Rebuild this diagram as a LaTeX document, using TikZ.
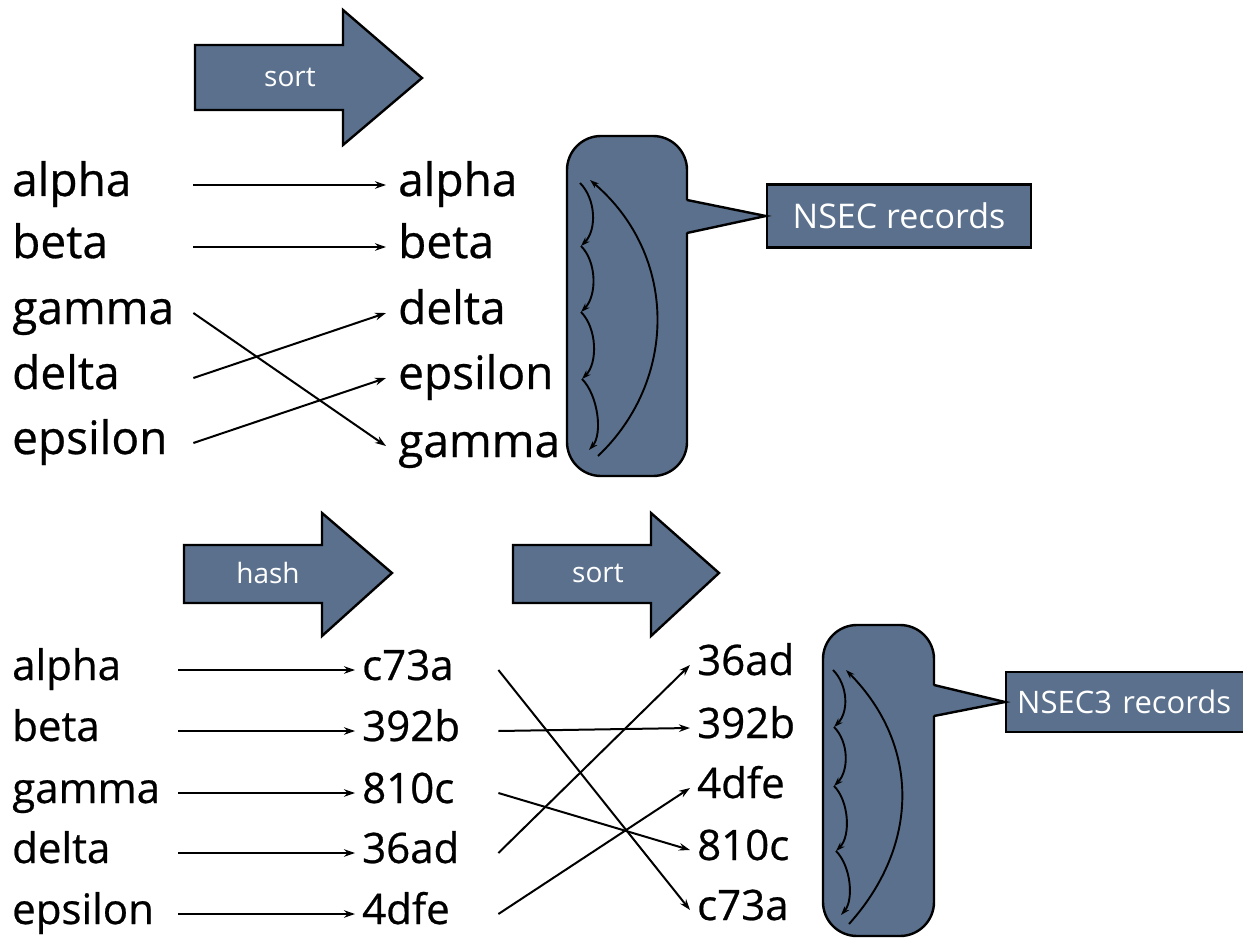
\documentclass[tikz,border=0pt]{standalone}
\usepackage{fontspec}
\setmainfont{Open Sans}
\newfontfamily\wordfont{Open Sans}[FakeBold=0.6]
\usetikzlibrary{arrows.meta}
\definecolor{slate}{RGB}{90,112,140}
\begin{document}
\begin{tikzpicture}[x=1pt,y=-1pt,
  wtop/.style={font=\wordfont\fontsize{46}{52}\selectfont, text height=33pt, text depth=11pt, inner ysep=0pt},
  wbot/.style={font=\wordfont\fontsize{42}{48}\selectfont, text height=30pt, text depth=10pt, inner ysep=0pt},
  lcol/.style={anchor=west, inner xsep=0pt, text width=#1, align=left},
  rcol/.style={anchor=west, inner xsep=#1},
  conn/.style={-{Stealth[length=11pt,width=7.5pt]}, line width=2pt},
  loop/.style={-{Stealth[length=9pt,width=6pt]}, line width=1.9pt},
  blk/.style={fill=slate, draw=black, line width=2.4pt, line join=miter},
  blktext/.style={text=white, font=\fontsize{28}{30}\selectfont},
  recbox/.style={fill=slate, draw=black, line width=2.4pt, rounded corners=34pt},
  callout/.style={fill=slate, draw=black, line width=2.4pt, text=white,
    font=\fontsize{34}{38}\selectfont, inner ysep=0pt, minimum height=63pt}
]
\path[use as bounding box, clip] (0,0) rectangle (1243,939);
\fill[white] (0,0) rectangle (1243,939);

% ---------- top block arrow ----------
\draw[blk] (195,45) -- (343,45) -- (343,10) -- (422,78) -- (343,145) -- (343,110) -- (195,110) -- cycle;
\node[blktext] (sortA) at (290,77) {sort};

% ---------- top words ----------
\node[wtop, lcol=181pt] (ta) at (12,185) {alpha};
\node[wtop, lcol=181pt] (tb) at (12,247) {beta};
\node[wtop, lcol=181pt] (tg) at (12,313) {gamma};
\node[wtop, lcol=181pt] (td) at (12,378) {delta};
\node[wtop, lcol=181pt] (te) at (12,443) {epsilon};

\node[wtop, rcol=12pt] (sa) at (386,185) {alpha};
\node[wtop, rcol=12pt] (sb) at (386,247) {beta};
\node[wtop, rcol=12pt] (sd) at (386,313) {delta};
\node[wtop, rcol=12pt] (se) at (386,378) {epsilon};
\node[wtop, rcol=12pt] (sg) at (386,446) {gamma};

\draw[conn] (ta.east) -- (sa.west);
\draw[conn] (tb.east) -- (sb.west);
\draw[conn] (tg.east) -- (sg.west);
\draw[conn] (td.east) -- (sd.west);
\draw[conn] (te.east) -- (se.west);

% ---------- NSEC box ----------
\draw[recbox] (567,136) rectangle (687,476);
\node[callout, minimum width=264pt] (nsec) at (899,216) {NSEC records};
\fill[slate] (684,200) -- (nsec.west) -- (684,233) -- cycle;
\draw[line width=2.4pt, line join=miter] (687,200) -- (nsec.west) -- (687,233);

\coordinate (p1) at (580,183);
\coordinate (p2) at (581,246);
\coordinate (p3) at (581,312);
\coordinate (p4) at (582,379);
\coordinate (p5) at (589,450);
\draw[loop] (p1) .. controls +(16,16) and +(16,-16) .. (p2);
\draw[loop] (p2) .. controls +(16,16) and +(16,-16) .. (p3);
\draw[loop] (p3) .. controls +(16,16) and +(16,-16) .. (p4);
\draw[loop] (p4) .. controls +(16,16) and +(14,-16) .. (p5);
\coordinate (pb) at (598,456);
\coordinate (pt) at (590,180);
\draw[loop] (pb) .. controls (678,380) and (678,255) .. (pt);

% ---------- bottom block arrows ----------
\draw[blk] (184,545) -- (322,545) -- (322,513) -- (392,573) -- (322,636) -- (322,603) -- (184,603) -- cycle;
\node[blktext] (hashA) at (268,573) {hash};
\draw[blk] (513,545) -- (651,545) -- (651,513) -- (719,573) -- (651,636) -- (651,603) -- (513,603) -- cycle;
\node[blktext] (sortB) at (598,573) {sort};

% ---------- bottom words ----------
\node[wbot, lcol=166pt] (ba) at (12,670) {alpha};
\node[wbot, lcol=166pt] (bb) at (12,731) {beta};
\node[wbot, lcol=166pt] (bg) at (12,793) {gamma};
\node[wbot, lcol=166pt] (bd) at (12,853) {delta};
\node[wbot, lcol=166pt] (be) at (12,914) {epsilon};

\node[wbot, anchor=west, inner xsep=7pt, text width=129pt, align=left] (hc) at (355,670) {c73a};
\node[wbot, anchor=west, inner xsep=7pt, text width=129pt, align=left] (h3) at (355,731) {392b};
\node[wbot, anchor=west, inner xsep=7pt, text width=129pt, align=left] (h8) at (355,793) {810c};
\node[wbot, anchor=west, inner xsep=7pt, text width=129pt, align=left] (h36) at (355,853) {36ad};
\node[wbot, anchor=west, inner xsep=7pt, text width=129pt, align=left] (h4) at (355,914) {4dfe};

\node[wbot, rcol=7pt] (r36) at (690,665) {36ad};
\node[wbot, rcol=7pt] (r3) at (690,728) {392b};
\node[wbot, rcol=7pt] (r4) at (690,788) {4dfe};
\node[wbot, rcol=7pt] (r8) at (690,850) {810c};
\node[wbot, rcol=7pt] (rc) at (690,910) {c73a};

\draw[conn] (ba.east) -- (hc.west);
\draw[conn] (bb.east) -- (h3.west);
\draw[conn] (bg.east) -- (h8.west);
\draw[conn, line width=2.6pt] (bd.east) -- (h36.west);
\draw[conn] (be.east) -- (h4.west);

\draw[conn] (hc.east) -- (rc.west);
\draw[conn] (h3.east) -- (r3.west);
\draw[conn] (h8.east) -- (r8.west);
\draw[conn] (h36.east) -- (r36.west);
\draw[conn] (h4.east) -- (r4.west);

% ---------- NSEC3 box ----------
\draw[recbox] (823,625) rectangle (934,936);
\node[callout, anchor=west, font=\fontsize{31}{36}\selectfont, minimum width=270pt, minimum height=60pt, inner xsep=11pt, text width=248pt, align=left] (nsec3) at (1005,702) {NSEC3 records};
\fill[slate] (931,685) -- (nsec3.west) -- (931,716) -- cycle;
\draw[line width=2.4pt, line join=miter] (934,685) -- (nsec3.west) -- (934,716);

\coordinate (q1) at (833,670);
\coordinate (q2) at (834,727);
\coordinate (q3) at (834,786);
\coordinate (q4) at (836,851);
\coordinate (q5) at (841,915);
\draw[loop] (q1) .. controls +(15,15) and +(15,-15) .. (q2);
\draw[loop] (q2) .. controls +(15,15) and +(15,-15) .. (q3);
\draw[loop] (q3) .. controls +(15,15) and +(15,-15) .. (q4);
\draw[loop] (q4) .. controls +(15,15) and +(13,-15) .. (q5);
\coordinate (qb) at (849,924);
\coordinate (qt) at (846,670);
\draw[loop] (qb) .. controls (920,845) and (920,745) .. (qt);
\end{tikzpicture}
\end{document}
